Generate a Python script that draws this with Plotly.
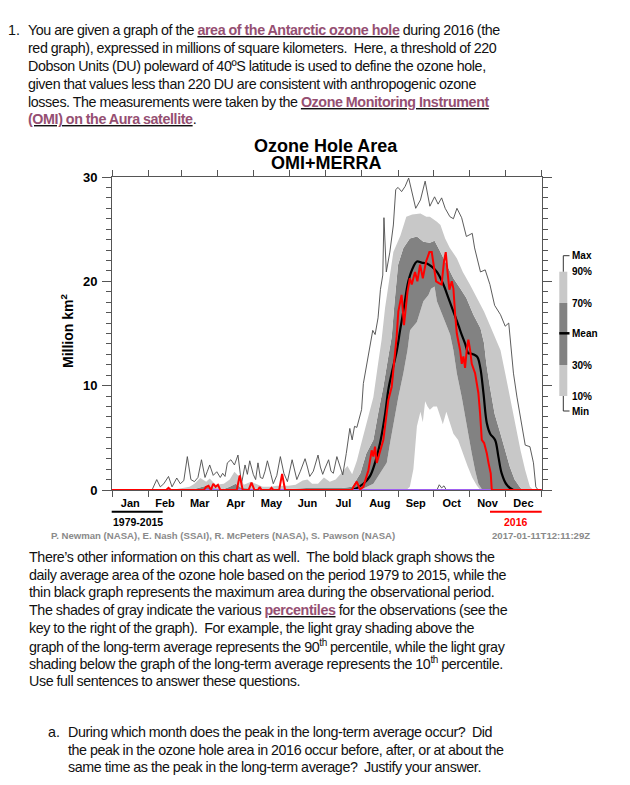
import plotly.graph_objects as go

# ---------------- data (day of year, value in million km^2) ----------------
max_day = [0, 34, 38, 41, 44, 48, 51, 55, 58, 61, 64, 67, 70, 73, 76, 79, 81, 83, 86, 89, 92, 94, 96, 98,
           101, 104, 107, 110, 113, 115, 117, 120, 122, 124, 126, 128, 130, 132, 135, 137, 140, 143, 146,
           149, 153, 155, 157, 160, 164, 166, 168, 171, 175, 177, 179, 181, 184, 186, 188, 191, 193, 196,
           199, 202, 204, 206, 208, 210, 212, 213.5, 216, 219, 221.5, 223.5, 226, 228, 230, 231, 233, 236,
           239, 241, 243, 246, 249, 252, 255, 258, 262, 266, 270, 274, 277, 280, 283, 287, 290, 293, 297,
           301, 306, 308, 313, 317, 321, 325, 330, 334, 337, 341, 344, 347, 351, 355, 358, 360, 362, 365]
max_val = [0, 0, 1.0, 0.3, 0.6, 1.3, 0.3, 1.15, 0.6, 0.9, 3.2, 1.0, 0.8, 1.2, 2.9, 1.2, 1.8, 2.4, 1.4, 1.75,
           1.2, 1.6, 1.3, 2.6, 2.9, 2.4, 3.35, 0.6, 2.4, 1.5, 2.8, 1.5, 1.0, 2.6, 1.2, 1.1, 1.8, 2.8, 1.5,
           0.6, 1.4, 3.2, 1.6, 0.8, 2.9, 2.0, 1.0, 1.8, 3.0, 2.2, 1.3, 1.8, 3.35, 2.2, 1.5, 2.1, 2.9, 1.8,
           1.6, 3.2, 2.4, 1.45, 3.5, 5.9, 4.8, 6.1, 6.0, 7.0, 7.7, 10.2, 11.8, 13.4, 15.3, 14.9, 16.5, 19.2,
           20.6, 26.1, 20.9, 22.8, 25.4, 28.8, 29.0, 28.6, 29.1, 29.9, 28.3, 27.0, 27.8, 29.6, 27.2, 28.1,
           27.4, 28.0, 27.0, 26.2, 26.0, 27.0, 26.1, 24.3, 24.6, 23.2, 20.9, 21.1, 19.7, 17.7, 16.8, 15.7,
           16.0, 11.2, 8.9, 7.0, 4.3, 4.15, 2.6, 0.3, 0, 0]

p90_day = [0, 50, 60, 66, 70, 75, 80, 83, 88, 95, 100, 104, 108, 112, 118, 122, 128, 135, 140, 150, 156,
           162, 166, 170, 175, 180, 185, 190, 196, 200, 204, 208, 211, 216, 222, 226, 229, 232, 235, 239,
           245, 250, 255, 262, 267, 270, 276, 279, 283, 287, 293, 298, 304, 310, 316, 321, 326, 330, 334,
           338, 342, 347, 351, 355, 358, 365]
p90_val = [0, 0, 0.2, 0.3, 0.6, 1.15, 0.8, 1.1, 0.5, 0.6, 1.0, 1.75, 1.3, 0.5, 0.8, 0.6, 0.3, 0.3, 0.4,
           0.4, 0.5, 0.9, 1.0, 0.6, 0.6, 1.2, 0.8, 1.0, 1.8, 2.3, 1.5, 2.8, 4.15, 6.4, 8.9, 12.1, 14.4,
           17.5, 20.0, 22.8, 24.4, 26.2, 26.4, 26.5, 26.2, 26.2, 25.7, 25.4, 24.1, 23.2, 22.2, 20.9, 19.7,
           18.4, 17.1, 15.8, 14.5, 13.4, 11.2, 8.9, 6.4, 3.8, 1.9, 0.3, 0, 0]

p70_day = [0, 60, 70, 80, 83, 95, 100, 105, 110, 125, 150, 165, 180, 195, 204, 211, 216, 222, 226, 230.5,
           234.7, 237.6, 240, 243, 247.5, 253, 259, 264.5, 270, 274, 279, 284, 290, 296, 301, 307, 313, 316,
           318, 321, 325, 330, 334, 338, 342, 347, 350, 365]
p70_val = [0, 0, 0.1, 0.4, 0.2, 0.1, 0.3, 0.6, 0.2, 0.1, 0.1, 0.2, 0.2, 0.2, 0.3, 1.6, 3.5, 4.8, 7.3, 9.9,
           12.8, 14.7, 18.0, 21.6, 23.2, 24.1, 24.3, 23.8, 23.7, 23.9, 22.8, 21.6, 20.3, 19.3, 18.4, 16.8,
           15.5, 14.1, 12.1, 9.9, 7.3, 5.4, 3.8, 2.2, 1.0, 0.2, 0, 0]

mean_day = [0, 190, 205, 213.5, 219, 223.4, 227.7, 232, 234.7, 237.6, 242, 244.7, 248, 251.7, 256, 259, 263,
            267.4, 271.6, 276, 281.5, 285.8, 290, 294.2, 297, 300, 302.7, 304.2, 310, 312.7, 315.5, 318.4,
            321.2, 325.4, 328.2, 331, 335.3, 341, 365]
mean_val = [0, 0, 0.05, 0.6, 1.3, 2.6, 4.5, 7.3, 9.6, 11.2, 13.4, 15.3, 17.5, 20.0, 21.4, 21.9, 21.8, 21.7,
            21.4, 20.9, 19.7, 18.4, 17.1, 15.8, 14.9, 14.0, 13.1, 13.1, 12.8, 11.8, 9.3, 6.4, 5.4, 4.8, 3.2,
            1.6, 0.5, 0, 0]

p30_day = [0, 60, 80, 100, 205, 213.5, 222, 227.7, 233.4, 236.2, 239, 243.2, 247.5, 251, 253.2, 259, 264.5,
           268.8, 271, 274, 276, 281.5, 287.2, 290, 292.9, 297.1, 300, 302.7, 305.6, 308.4, 311.2, 314, 316,
           365]
p30_val = [0, 0, 0.05, 0.05, 0, 0.15, 0.6, 1.6, 2.6, 4.5, 6.4, 8.9, 11.2, 13.4, 15.3, 16.1, 18.1, 18.7,
           19.3, 19.5, 18.1, 16.5, 14.9, 13.4, 11.2, 8.9, 7.0, 5.1, 3.5, 1.9, 0.6, 0.1, 0, 0]

p10_day = [0, 250, 253, 256, 259, 262, 264, 266, 268, 270, 273, 276, 279, 281, 284, 287, 290, 294, 298, 302,
           306, 310, 313, 365]
p10_val = [0, 0, 0.3, 2.0, 6.1, 7.5, 6.5, 8.5, 8.0, 7.7, 8.0, 8.0, 7.0, 6.3, 7.5, 6.5, 5.4, 4.8, 3.5, 2.3,
           1.2, 0.4, 0, 0]

min_day = [0, 276, 278, 280, 282, 284, 365]
min_val = [0, 0, 0.5, 0.2, 0.4, 0, 0]

base_day = [0, 365]
base_val = [0, 0]

y2016_day = [0, 46, 48, 50, 78, 80, 82, 84, 86, 88, 90, 92, 106, 108.5, 111, 116, 118.5, 121, 124, 125.5,
             127, 134, 135.5, 137, 142, 144.5, 147, 204, 205, 207.9, 210.7, 213.5, 217.8, 220.6, 222, 223.4,
             224.9, 227.7, 230.5, 231.9, 234.7, 237.6, 240.4, 241.8, 243.2, 246, 248, 251, 253, 254.6, 257.4,
             259.4, 261.7, 264, 266.8, 269.6, 271.6, 273.6, 275.3, 278, 280, 282, 283.5, 285, 286.6, 288.6,
             290, 291.5, 292.9, 295.7, 297.1, 298.5, 299.9, 301.4, 302.7, 304.2, 305.6, 308.4, 311.2, 312.7,
             314.1, 316.1, 318.4, 319.8, 321.7, 322.6, 365]
y2016_val = [0, 0, 0.2, 0, 0, 0.3, 0.4, 0, 0.6, 0.3, 0.5, 0, 0, 1.4, 0, 0, 0.7, 0, 0, 0.3, 0, 0, 0.2, 0, 0,
             1.55, 0, 0, 0.3, 0.8, 0.05, 0.3, 1.9, 3.8, 3.2, 4.15, 2.6, 3.8, 4.8, 6.1, 8.6, 9.9, 12.8, 14.7,
             17.1, 18.7, 15.8, 19.0, 20.3, 19.7, 20.9, 20.0, 21.6, 20.3, 21.9, 22.8, 22.8, 21.2, 20.0, 19.8,
             19.7, 21.9, 22.8, 20.9, 19.2, 20.0, 19.3, 16.8, 15.0, 13.4, 12.1, 12.8, 11.7, 13.5, 14.4, 13.4,
             12.1, 11.2, 9.3, 7.3, 4.8, 4.5, 3.5, 2.6, 1.6, 0, 0]

month_starts = [0, 31, 59, 90, 120, 151, 181, 212, 243, 273, 304, 334, 365]
month_mids = [15.5, 45, 74.5, 105, 135.5, 166, 196.5, 227.5, 258, 288.5, 319, 349.5]
month_names = ["Jan", "Feb", "Mar", "Apr", "May", "Jun", "Jul", "Aug", "Sep", "Oct", "Nov", "Dec"]

key_labels = ["Max", "90%", "70%", "Mean", "30%", "10%", "Min"]

# text lines: list of segments (text, is_link)
para1 = [
    [("You are given a graph of the ", False), ("area of the Antarctic ozone hole", True), (" during 2016 (the", False)],
    [("red graph), expressed in millions of square kilometers.  Here, a threshold of 220", False)],
    [("Dobson Units (DU) poleward of 40ºS latitude is used to define the ozone hole,", False)],
    [("given that values less than 220 DU are consistent with anthropogenic ozone", False)],
    [("losses. The measurements were taken by the ", False), ("Ozone Monitoring Instrument", True)],
    [("(OMI) on the Aura satellite", True), (".", False)],
]
para2 = [
    [("There’s other information on this chart as well.  The bold black graph shows the", False)],
    [("daily average area of the ozone hole based on the period 1979 to 2015, while the", False)],
    [("thin black graph represents the maximum area during the observational period.", False)],
    [("The shades of gray indicate the various ", False), ("percentiles", True), (" for the observations (see the", False)],
    [("key to the right of the graph).  For example, the light gray shading above the", False)],
    [("graph of the long-term average represents the 90", False), ("<sup>th</sup>", False),
     (" percentile, while the light gray", False)],
    [("shading below the graph of the long-term average represents the 10", False), ("<sup>th</sup>", False),
     (" percentile.", False)],
    [("Use full sentences to answer these questions.", False)],
]
para3 = [
    [("During which month does the peak in the long-term average occur?  Did", False)],
    [("the peak in the ozone hole area in 2016 occur before, after, or at about the", False)],
    [("same time as the peak in the long-term average?  Justify your answer.", False)],
]

# ---------------- layout helpers (pixels -> paper) ----------------
W, H = 630, 785
def px(x):
    return x / W
def py(y):
    return 1 - y / H

LIGHT = "#c8c8c8"
DARK = "#828282"
AX = "#555555"
FONT = "Liberation Sans, Arial, sans-serif"
SQ = "letter-spacing:-0.4px;word-spacing:-0.3px"

def build_line(segs):
    out = []
    for t, link in segs:
        if link:
            out.append("<b><u><span style='color:#954F72;%s'>%s</span></u></b>" % (SQ, t))
        else:
            out.append("<span style='%s'>%s</span>" % (SQ, t))
    return "".join(out)

fig = go.Figure()
fig.add_trace(go.Scatter(x=p10_day, y=p10_val, mode="lines", line=dict(width=0), hoverinfo="skip"))
fig.add_trace(go.Scatter(x=p30_day, y=p30_val, mode="lines", line=dict(width=0), fill="tonexty",
                         fillcolor=LIGHT, hoverinfo="skip"))
fig.add_trace(go.Scatter(x=p70_day, y=p70_val, mode="lines", line=dict(width=0), fill="tonexty",
                         fillcolor=DARK, hoverinfo="skip"))
fig.add_trace(go.Scatter(x=p90_day, y=p90_val, mode="lines", line=dict(width=0), fill="tonexty",
                         fillcolor=LIGHT, hoverinfo="skip"))
fig.add_trace(go.Scatter(x=max_day, y=max_val, mode="lines", line=dict(color="#4a4a4a", width=0.9)))
fig.add_trace(go.Scatter(x=mean_day, y=mean_val, mode="lines", line=dict(color="black", width=2.2, shape="spline")))
fig.add_trace(go.Scatter(x=min_day, y=min_val, mode="lines", line=dict(color="#4a4a4a", width=0.9)))
fig.add_trace(go.Scatter(x=base_day, y=base_val, mode="lines", line=dict(color="#a060f0", width=2.2)))
fig.add_trace(go.Scatter(x=y2016_day, y=y2016_val, mode="lines", line=dict(color="#ff0000", width=2)))

fig.update_layout(
    width=W, height=H, showlegend=False,
    margin=dict(l=0, r=0, t=0, b=0),
    paper_bgcolor="white", plot_bgcolor="white",
    font=dict(family=FONT, color="black"),
    xaxis=dict(domain=[px(112), px(541.7)], range=[0, 365], automargin=False,
               tickmode="array", tickvals=month_mids, ticktext=month_names, ticks="",
               tickfont=dict(size=11, family=FONT, color="black", weight="bold"),
               showline=True, linecolor=AX, linewidth=1, mirror="ticks", showgrid=False, zeroline=False,
               minor=dict(tickmode="array", tickvals=month_starts, ticks="outside", ticklen=6,
                          tickcolor=AX, tickwidth=1, showgrid=False),
               ticklabelstandoff=3),
    yaxis=dict(domain=[py(490), py(177)], range=[0, 30], automargin=False,
               tickmode="array", tickvals=[0, 10, 20, 30], ticks="outside", ticklen=9, tickcolor=AX,
               tickwidth=1, tickfont=dict(size=13, family=FONT, color="black", weight="bold"),
               showline=True, linecolor=AX, linewidth=1, mirror="ticks", showgrid=False, zeroline=False,
               minor=dict(dtick=1, ticks="outside", ticklen=5, tickcolor=AX, tickwidth=1, showgrid=False),
               ticklabelstandoff=2),
)

ann = []
def add_text(x, y, text, size, color="black", xanchor="left", bold=False, textangle=0):
    ann.append(dict(x=px(x), y=py(y), xref="paper", yref="paper", text=text, showarrow=False,
                    xanchor=xanchor, yanchor="middle", textangle=textangle,
                    font=dict(size=size, family=FONT, color=color, weight="bold" if bold else "normal")))

BODY = 14.3
TXT = "#111111"
# paragraph 1
add_text(6, 30.5, "1.", BODY, color=TXT)
for i, segs in enumerate(para1):
    add_text(26, 30.5 + i * 17.8, build_line(segs), BODY, color=TXT)
# paragraph 2
for i, segs in enumerate(para2):
    add_text(27, 557 + i * 17.7, build_line(segs), BODY, color=TXT)
# paragraph 3
add_text(46, 732, "a.", BODY, color=TXT)
for i, segs in enumerate(para3):
    add_text(66, 732 + i * 17.6, build_line(segs), BODY, color=TXT)

# chart titles
add_text(326, 146, "Ozone Hole Area", 18, xanchor="center", bold=True)
add_text(326, 162.5, "OMI+MERRA", 18, xanchor="center", bold=True)
add_text(67, 331, "Million km<sup>2</sup>", 14, xanchor="center", bold=True, textangle=-90)

# key labels
key_y = [255.7, 271.7, 303, 333.3, 365, 396, 411]
for lab, yy in zip(key_labels, key_y):
    add_text(570, yy, lab, 10, bold=True)

# footer
add_text(137.5, 522, "1979-2015", 10.5, xanchor="center", bold=True)
add_text(516, 522, "2016", 10.5, xanchor="center", bold=True, color="#ff0000")
add_text(49, 535.5, "P. Newman (NASA), E. Nash (SSAI), R. McPeters (NASA), S. Pawson (NASA)", 9.6,
         bold=True, color="#8a8a8a")
add_text(592, 535.5, "2017-01-11T12:11:29Z", 9.6, xanchor="right", bold=True, color="#8a8a8a")
fig.update_layout(annotations=ann)

shapes = []
def rect(x0, y0, x1, y1, color):
    shapes.append(dict(type="rect", xref="paper", yref="paper", x0=px(x0), x1=px(x1), y0=py(y0), y1=py(y1),
                       fillcolor=color, line=dict(width=0), layer="above"))
def line(x0, y0, x1, y1, color, w):
    shapes.append(dict(type="line", xref="paper", yref="paper", x0=px(x0), x1=px(x1), y0=py(y0), y1=py(y1),
                       line=dict(color=color, width=w), layer="above"))
# key
rect(559.3, 271.7, 567.3, 303, LIGHT)
rect(559.3, 303, 567.3, 365, DARK)
rect(559.3, 365, 567.3, 396, LIGHT)
line(559.3, 333.3, 569.5, 333.3, "black", 2.5)
line(563.3, 255.7, 563.3, 271.7, "#333", 1)
line(563.3, 255.7, 569.5, 255.7, "#333", 1)
line(563.3, 396, 563.3, 411, "#333", 1)
line(563.3, 411, 569.5, 411, "#333", 1)
# period bars
line(111.7, 511.7, 162.7, 511.7, "black", 2)
line(490, 511.7, 541.7, 511.7, "#ff0000", 2)
fig.update_layout(shapes=shapes)

fig.write_html("out.html", config={"displayModeBar": False},
               post_script="document.body.style.margin='0';document.body.style.padding='0';")
